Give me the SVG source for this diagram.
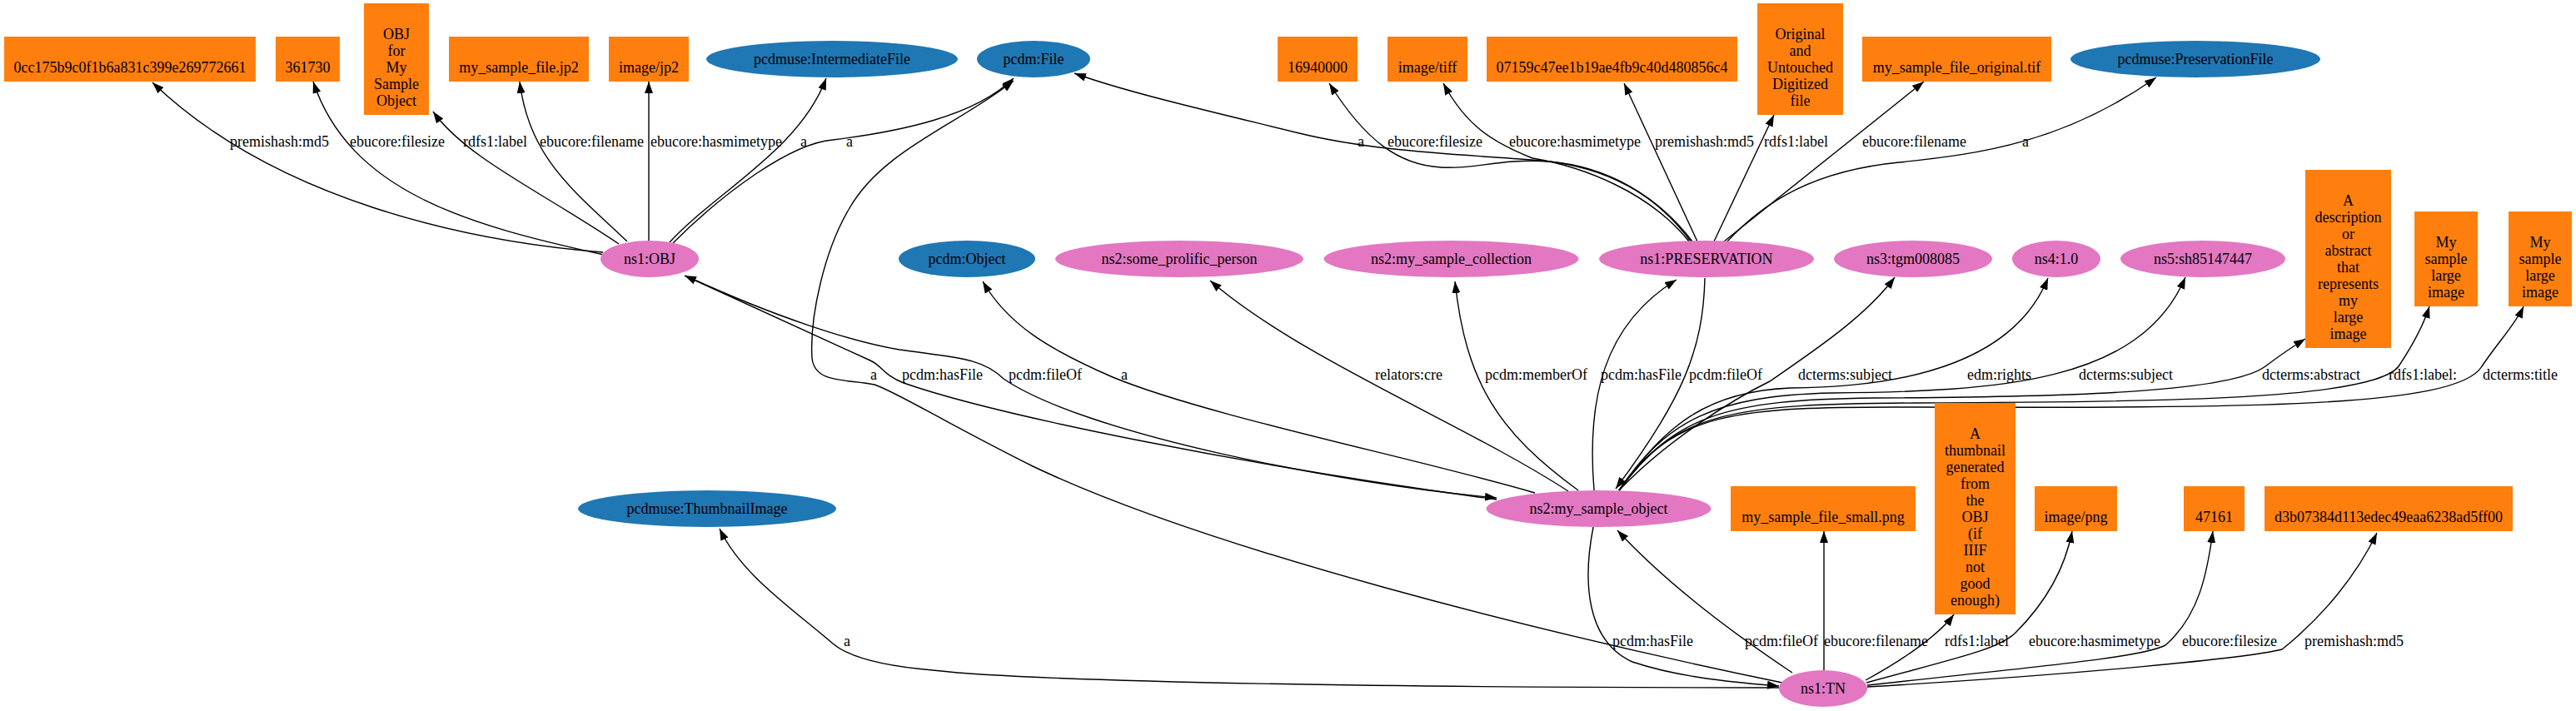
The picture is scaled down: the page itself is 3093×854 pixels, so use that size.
<svg xmlns="http://www.w3.org/2000/svg" width="3093" height="854" viewBox="0 0 3093 854">
<defs>
<marker id="ah" viewBox="0 0 14 10" refX="14" refY="5" markerWidth="14" markerHeight="10" orient="auto" markerUnits="userSpaceOnUse"><path d="M0,0 L14,5 L0,10 z" fill="#000"/></marker>
</defs>
<style>
text{font-family:"Liberation Serif","Times New Roman",serif;font-size:18px;fill:#000}
.n text{text-anchor:middle}
.lit{fill:#ff7f0e}
.cls{fill:#1f77b4}
.res{fill:#e377c2}
.e path{fill:none;stroke:#000;stroke-width:1.4;marker-end:url(#ah)}
</style>
<rect width="3093" height="854" fill="#fff"/>

<g id="connectors" class="e">
<!-- ns1:OBJ -->
<path d="M724,303 C560,290 330,240 183,99"/><text x="276" y="176">premishash:md5</text>
<path d="M725,306 C560,270 420,230 376,98"/><text x="420" y="176">ebucore:filesize</text>
<path d="M743,293 C650,230 560,190 520,134"/><text x="556" y="176">rdfs1:label</text>
<path d="M753,290 C690,230 635,190 624,98"/><text x="648" y="176">ebucore:filename</text>
<path d="M779,289 L779,98"/><text x="781" y="176">ebucore:hasmimetype</text>
<path d="M804,291 C860,230 960,180 992,94"/><text x="961" y="176">a</text>
<path d="M808,292 C870,230 950,172 1000,168 C1080,158 1170,140 1217,94"/><text x="1016" y="176">a</text>
<path d="M827,333 C930,380 1020,410 1080,420 C1150,430 1180,430 1205,455 C1300,520 1600,580 1797,598"/><text x="1211" y="456">pcdm:fileOf</text>
<!-- ns2:my_sample_object -->
<path d="M1797,600 C1500,560 1200,500 1085,460 C1060,450 1060,440 1045,433 L822,331"/><text x="1083" y="456">pcdm:hasFile</text>
<path d="M1843,592 C1700,550 1450,500 1336,453 C1260,420 1210,390 1180,338"/><text x="1346" y="456">a</text>
<path d="M1883,590 C1760,510 1560,430 1453,337"/><text x="1651" y="456">relators:cre</text>
<path d="M1895,589 C1800,520 1760,460 1747,338"/><text x="1783" y="456">pcdm:memberOf</text>
<path d="M1914,589 C1905,480 1925,390 2013,336"/><text x="1922" y="456">pcdm:hasFile</text>
<path d="M1944,589 C2000,530 2080,480 2125,458 C2180,420 2240,380 2275,333"/><text x="2159" y="456">dcterms:subject</text>
<path d="M1944,589 C2000,510 2050,470 2150,466 C2300,465 2420,430 2459,334"/><text x="2362" y="456">edm:rights</text>
<path d="M1944,589 C2000,505 2060,475 2200,472 C2400,470 2570,460 2624,333"/><text x="2496" y="456">dcterms:subject</text>
<path d="M1944,589 C2010,500 2070,480 2250,478 C2500,477 2680,470 2720,440 C2740,425 2755,415 2768,407"/><text x="2716" y="456">dcterms:abstract</text>
<path d="M1944,589 C2010,495 2080,485 2300,484 C2600,483 2850,480 2880,440 C2900,410 2910,390 2917,368"/><text x="2868" y="456">rdfs1:label:</text>
<path d="M1944,589 C2010,495 2080,488 2300,489 C2700,490 2950,490 2980,440 C3000,410 3020,390 3030,368"/><text x="2981" y="456">dcterms:title</text>
<path d="M1913,633 C1900,700 1905,770 1960,795 C2020,815 2090,820 2136,824"/><text x="1936" y="776">pcdm:hasFile</text>
<!-- ns1:PRESERVATION -->
<path d="M2030,290 C1990,235 1930,200 1850,193 C1750,185 1650,182 1560,160 C1450,133 1350,110 1290,88"/><text x="1630" y="176">a</text>
<path d="M2032,290 C1990,235 1930,200 1860,194 C1800,190 1770,204 1730,201 C1680,198 1640,170 1596,100"/><text x="1666" y="176">ebucore:filesize</text>
<path d="M2028,290 C1980,230 1900,200 1840,190 C1790,170 1760,150 1733,100"/><text x="1812" y="176">ebucore:hasmimetype</text>
<path d="M2038,290 L1950,100"/><text x="1987" y="176">premishash:md5</text>
<path d="M2058,290 L2130,138"/><text x="2118" y="176">rdfs1:label</text>
<path d="M2070,290 L2310,98"/><text x="2236" y="176">ebucore:filename</text>
<path d="M2073,291 C2120,240 2180,205 2280,195 C2380,185 2480,170 2589,93"/><text x="2428" y="176">a</text>
<path d="M2047,334 C2045,420 2020,480 1940,587"/><text x="2028" y="456">pcdm:fileOf</text>
<!-- ns1:TN -->
<path d="M2140,820 C1850,760 1450,660 1240,560 C1130,505 1075,470 1050,462 C1020,455 978,462 975,430 C972,380 990,300 1020,250 C1060,180 1150,150 1217,97"/><text x="1045" y="456">a</text>
<path d="M2136,826 C1700,826 1250,820 1120,805 C1060,800 1020,790 1000,773 C950,730 890,690 864,635"/><text x="1013" y="776">a</text>
<path d="M2152,808 C2080,760 2000,700 1942,637"/><text x="2095" y="776">pcdm:fileOf</text>
<path d="M2190,805 L2190,638"/><text x="2190" y="776">ebucore:filename</text>
<path d="M2240,817 C2290,790 2330,760 2346,738"/><text x="2335" y="776">rdfs1:label</text>
<path d="M2241,820 C2350,790 2400,780 2420,760 C2460,720 2480,680 2488,638"/><text x="2436" y="776">ebucore:hasmimetype</text>
<path d="M2242,823 C2450,800 2570,790 2600,775 C2640,740 2650,690 2657,638"/><text x="2620" y="776">ebucore:filesize</text>
<path d="M2242,825 C2500,810 2700,790 2740,780 C2790,740 2830,690 2854,640"/><text x="2767" y="776">premishash:md5</text>
</g>

<!-- Row 1 -->
<g id="md5_obj" class="n"><rect class="lit" x="5" y="44" width="302" height="54"/><text x="156" y="87">0cc175b9c0f1b6a831c399e269772661</text></g>
<g id="size_obj" class="n"><rect class="lit" x="331" y="44" width="77" height="54"/><text x="369.5" y="87">361730</text></g>
<g id="label_obj" class="n"><rect class="lit" x="437" y="4" width="78" height="134"/><text x="476" y="47">OBJ</text><text x="476" y="67">for</text><text x="476" y="87">My</text><text x="476" y="107">Sample</text><text x="476" y="127">Object</text></g>
<g id="fname_obj" class="n"><rect class="lit" x="539" y="44" width="168" height="54"/><text x="623" y="87">my_sample_file.jp2</text></g>
<g id="mime_obj" class="n"><rect class="lit" x="731" y="44" width="96" height="54"/><text x="779" y="87">image/jp2</text></g>
<g id="pcdmuse_IntermediateFile" class="n"><ellipse class="cls" cx="999" cy="71" rx="151" ry="22"/><text x="999" y="77">pcdmuse:IntermediateFile</text></g>
<g id="pcdm_File" class="n"><ellipse class="cls" cx="1241" cy="71" rx="68" ry="22"/><text x="1241" y="77">pcdm:File</text></g>
<g id="size_pres" class="n"><rect class="lit" x="1534" y="44" width="96" height="54"/><text x="1582" y="87">16940000</text></g>
<g id="mime_pres" class="n"><rect class="lit" x="1666" y="44" width="96" height="54"/><text x="1714" y="87">image/tiff</text></g>
<g id="md5_pres" class="n"><rect class="lit" x="1785" y="44" width="301" height="54"/><text x="1935.5" y="87">07159c47ee1b19ae4fb9c40d480856c4</text></g>
<g id="label_pres" class="n"><rect class="lit" x="2110" y="4" width="103" height="134"/><text x="2161.5" y="47">Original</text><text x="2161.5" y="67">and</text><text x="2161.5" y="87">Untouched</text><text x="2161.5" y="107">Digitized</text><text x="2161.5" y="127">file</text></g>
<g id="fname_pres" class="n"><rect class="lit" x="2236" y="44" width="227" height="54"/><text x="2349.5" y="87">my_sample_file_original.tif</text></g>
<g id="pcdmuse_PreservationFile" class="n"><ellipse class="cls" cx="2636" cy="71" rx="150" ry="22"/><text x="2636" y="77">pcdmuse:PreservationFile</text></g>

<!-- Row 2 -->
<g id="ns1_OBJ" class="n"><ellipse class="res" cx="780" cy="311" rx="59" ry="22"/><text x="780" y="317">ns1:OBJ</text></g>
<g id="pcdm_Object" class="n"><ellipse class="cls" cx="1161" cy="311" rx="82" ry="22"/><text x="1161" y="317">pcdm:Object</text></g>
<g id="ns2_some_prolific_person" class="n"><ellipse class="res" cx="1416" cy="311" rx="149" ry="22"/><text x="1416" y="317">ns2:some_prolific_person</text></g>
<g id="ns2_my_sample_collection" class="n"><ellipse class="res" cx="1742.5" cy="311" rx="153" ry="22"/><text x="1742.5" y="317">ns2:my_sample_collection</text></g>
<g id="ns1_PRESERVATION" class="n"><ellipse class="res" cx="2049" cy="311" rx="129" ry="22"/><text x="2049" y="317">ns1:PRESERVATION</text></g>
<g id="ns3_tgm008085" class="n"><ellipse class="res" cx="2297" cy="311" rx="95" ry="22"/><text x="2297" y="317">ns3:tgm008085</text></g>
<g id="ns4_1_0" class="n"><ellipse class="res" cx="2469" cy="311" rx="53" ry="22"/><text x="2469" y="317">ns4:1.0</text></g>
<g id="ns5_sh85147447" class="n"><ellipse class="res" cx="2645" cy="311" rx="99" ry="22"/><text x="2645" y="317">ns5:sh85147447</text></g>
<g id="abstract" class="n"><rect class="lit" x="2768" y="204" width="103" height="214"/><text x="2819.5" y="247">A</text><text x="2819.5" y="267">description</text><text x="2819.5" y="287">or</text><text x="2819.5" y="307">abstract</text><text x="2819.5" y="327">that</text><text x="2819.5" y="347">represents</text><text x="2819.5" y="367">my</text><text x="2819.5" y="387">large</text><text x="2819.5" y="407">image</text></g>
<g id="label_obj2" class="n"><rect class="lit" x="2899" y="254" width="76" height="114"/><text x="2937" y="297">My</text><text x="2937" y="317">sample</text><text x="2937" y="337">large</text><text x="2937" y="357">image</text></g>
<g id="title_obj2" class="n"><rect class="lit" x="3012" y="254" width="76" height="114"/><text x="3050" y="297">My</text><text x="3050" y="317">sample</text><text x="3050" y="337">large</text><text x="3050" y="357">image</text></g>

<!-- Row 3 -->
<g id="pcdmuse_ThumbnailImage" class="n"><ellipse class="cls" cx="849" cy="611" rx="155" ry="22"/><text x="849" y="617">pcdmuse:ThumbnailImage</text></g>
<g id="ns2_my_sample_object" class="n"><ellipse class="res" cx="1919.5" cy="611" rx="135" ry="22"/><text x="1919.5" y="617">ns2:my_sample_object</text></g>
<g id="fname_tn" class="n"><rect class="lit" x="2078" y="584" width="222" height="54"/><text x="2189" y="627">my_sample_file_small.png</text></g>
<g id="label_tn" class="n"><rect class="lit" x="2323" y="484" width="97" height="254"/><text x="2371.5" y="527">A</text><text x="2371.5" y="547">thumbnail</text><text x="2371.5" y="567">generated</text><text x="2371.5" y="587">from</text><text x="2371.5" y="607">the</text><text x="2371.5" y="627">OBJ</text><text x="2371.5" y="647">(if</text><text x="2371.5" y="667">IIIF</text><text x="2371.5" y="687">not</text><text x="2371.5" y="707">good</text><text x="2371.5" y="727">enough)</text></g>
<g id="mime_tn" class="n"><rect class="lit" x="2443" y="584" width="99" height="54"/><text x="2492.5" y="627">image/png</text></g>
<g id="size_tn" class="n"><rect class="lit" x="2622" y="584" width="73" height="54"/><text x="2658.5" y="627">47161</text></g>
<g id="md5_tn" class="n"><rect class="lit" x="2719" y="584" width="298" height="54"/><text x="2868" y="627">d3b07384d113edec49eaa6238ad5ff00</text></g>

<!-- Row 4 -->
<g id="ns1_TN" class="n"><ellipse class="res" cx="2189" cy="827" rx="53" ry="22"/><text x="2189" y="833">ns1:TN</text></g>
</svg>
